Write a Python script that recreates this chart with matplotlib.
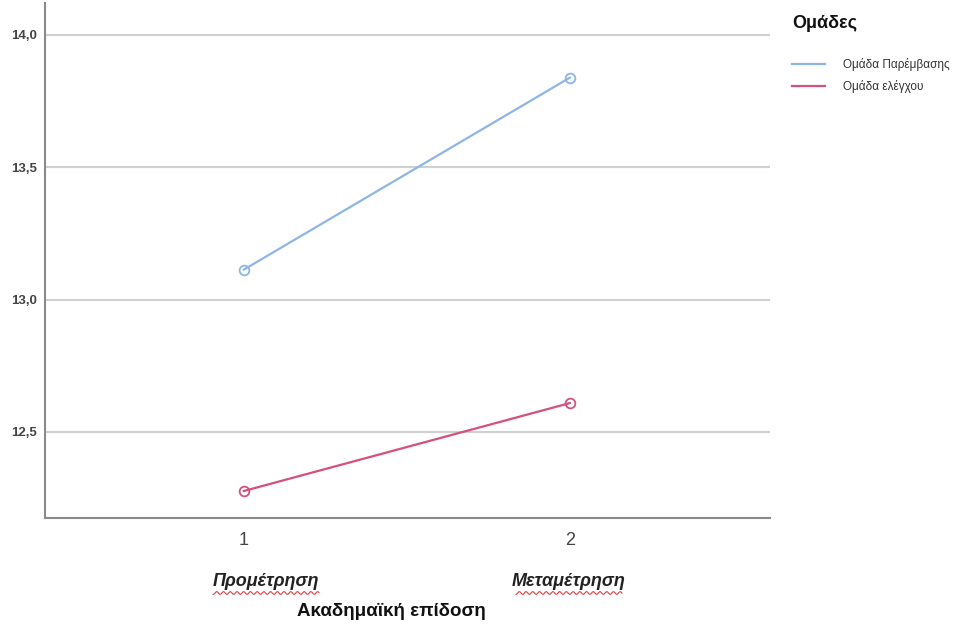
import numpy as np
import matplotlib.pyplot as plt
from matplotlib.lines import Line2D

# measurement points and group means
points = [1, 2]
groups = ["Ομάδα Παρέμβασης", "Ομάδα ελέγχου"]
intervention = [13.113, 13.838]
control = [12.277, 12.609]
colors = ["#8db6e6", "#d5507a"]
phase_labels = ["Προμέτρηση", "Μεταμέτρηση"]

plt.rcParams['font.family'] = ['Liberation Sans', 'DejaVu Sans']

fig = plt.figure(figsize=(9.63, 6.27), dpi=100)
ax = fig.add_axes([45 / 963, 1 - 518 / 627, 725 / 963, 515 / 627])

for vals, col, name in zip([intervention, control], colors, groups):
    ax.plot(points, vals, color=col, lw=1.6, marker="o", ms=7,
            mfc="none", mec=col, mew=1.3, label=name)

ax.set_xlim(0.39, 2.614)
ax.set_ylim(12.175, 14.12)
ax.set_yticks([12.5, 13.0, 13.5, 14.0])
ax.set_yticklabels(["12,5", "13,0", "13,5", "14,0"], fontsize=9.5,
                   fontweight="bold", color="#444444")
ax.set_xticks(points)
ax.set_xticklabels(["1", "2"], fontsize=13, color="#444444")
ax.tick_params(length=0, pad=10)
ax.tick_params(axis="y", pad=6)
ax.grid(axis="y", color="#d0d0d0", lw=1.5)
ax.set_axisbelow(True)
for s in ["top", "right"]:
    ax.spines[s].set_visible(False)
for s in ["left", "bottom"]:
    ax.spines[s].set_color("#8a8a8a")
    ax.spines[s].set_linewidth(1.5)

# phase labels with spell-check style underline
for xpix, lab in zip([266, 569], phase_labels):
    xf = xpix / 963
    fig.text(xf, 1 - 582 / 627, lab, ha="center", va="center",
             fontsize=13, fontweight="bold", fontstyle="italic", color="#222222")
    xs = np.linspace(xf - 0.055, xf + 0.055, 120)
    fig.lines.append(Line2D(xs, 1 - 593 / 627 + 0.0022 * np.sin(xs * 900),
                            transform=fig.transFigure, color="#e04040", lw=0.8))

fig.text(391 / 963, 1 - 612 / 627, "Ακαδημαϊκή επίδοση", ha="center", va="center",
         fontsize=13.5, fontweight="bold", color="#111111")

handles = [Line2D([], [], color=c, lw=1.6) for c in colors]
leg = ax.legend(handles, groups, loc="upper left", bbox_to_anchor=(792 / 963, 1 - 15 / 627),
                bbox_transform=fig.transFigure, frameon=False, title="Ομάδες",
                prop={"size": 8.5}, handlelength=2.8, handletextpad=1.5,
                labelspacing=0.75, borderpad=0, borderaxespad=0)
leg.get_title().set_fontsize(13)
leg.get_title().set_fontweight("bold")
leg.get_title().set_color("#111111")
leg._legend_box.align = "left"
leg._legend_box.sep = 19
for t in leg.get_texts():
    t.set_color("#333333")

fig.savefig("out.png", dpi=100)
